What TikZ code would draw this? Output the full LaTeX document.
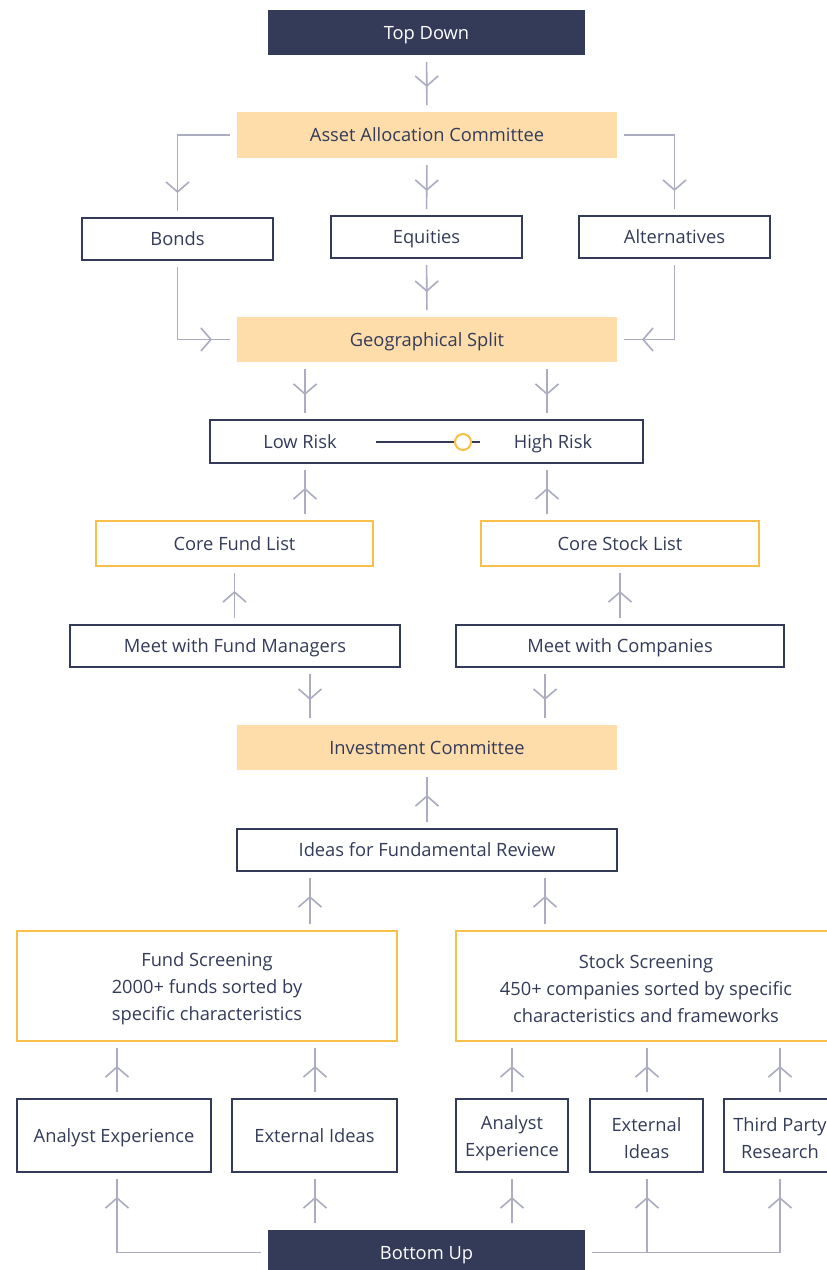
\documentclass[tikz,border=0pt]{standalone}
\usepackage{fontspec}
\setmainfont{Open Sans}
\usetikzlibrary{arrows.meta,decorations.markings,calc}
\definecolor{navy}{HTML}{333B59}
\definecolor{peach}{HTML}{FEDDAA}
\definecolor{gold}{HTML}{F8C048}
\definecolor{arrowgray}{HTML}{ABABC2}
\tikzset{
  every node/.style={font=\fontsize{18.3}{27}\selectfont, text=navy, align=center, inner sep=0pt, outer sep=7pt},
  one/.style={text height=13.2pt, text depth=0pt},
  multi/.style={yshift=-3pt},
  darkbox/.style={fill=navy, text=white, one},
  peachbox/.style={fill=peach, one},
  linebox/.style={draw=navy, line width=1.5pt, fill=white, one},
  multibox/.style={draw=navy, line width=1.5pt, fill=white},
  goldbox/.style={draw=gold, line width=1.5pt, fill=white, one},
  goldmulti/.style={draw=gold, line width=1.5pt, fill=white},
  conn/.style={draw=arrowgray, line width=1.6pt, postaction={decorate},
    decoration={markings, mark=at position -18pt with {\arrow[arrowgray, line width=1.6pt]{Straight Barb[length=10pt,width=23pt]}}}},
}
\newcommand{\bx}[7]{\node[#1, minimum width={#5-#3}, minimum height={#6-#4}] (#2) at ({(#3+#5)/2},{(#4+#6)/2}) {#7};}
\newcommand{\mbx}[7]{%
  \node[#1, minimum width={#5-#3}, minimum height={#6-#4}] (#2) at ({(#3+#5)/2},{(#4+#6)/2}) {};
  \node[outer sep=0pt] (#2-t) at ($(#2.center)+(0,3)$) {#7};}
\begin{document}
\begin{tikzpicture}[x=1pt,y=-1pt]
\clip (0,0) rectangle (827,1270);
\fill[white] (0,0) rectangle (827,1270);
% boxes
\bx{darkbox}{TD}{268}{10}{585}{55}{Top Down}
\bx{peachbox}{AAC}{237}{112}{617}{158}{Asset Allocation Committee}
\bx{linebox}{BO}{82}{218}{273}{260}{Bonds}
\bx{linebox}{EQ}{331}{216}{522}{258}{Equities}
\bx{linebox}{AL}{579}{216}{770}{258}{Alternatives}
\bx{peachbox}{GS}{237}{317}{617}{362}{Geographical Split}
\bx{linebox}{RK}{210}{420}{643}{463}{}
\bx{goldbox}{CFL}{96}{521}{373}{566}{Core Fund List}
\bx{goldbox}{CSL}{481}{521}{759}{566}{Core Stock List}
\bx{linebox}{MFM}{70}{625}{400}{667}{Meet with Fund Managers}
\bx{linebox}{MC}{456}{625}{784}{667}{Meet with Companies}
\bx{peachbox}{IC}{237}{725}{617}{770}{Investment Committee}
\bx{linebox}{IFR}{237}{829}{617}{871}{Ideas for Fundamental Review}
\mbx{goldmulti}{FS}{17}{931}{397}{1041}{Fund Screening\\2000+ funds sorted by\\specific characteristics}
\mbx{goldmulti}{SS}{456}{931}{836}{1041}{Stock Screening\\450+ companies sorted by specific\\characteristics and frameworks}
\bx{linebox}{AE1}{17}{1099}{211}{1172}{Analyst Experience}
\bx{linebox}{EI1}{232}{1099}{397}{1172}{External Ideas}
\mbx{multibox}{AE2}{456}{1099}{568}{1172}{Analyst\\Experience}
\mbx{multibox}{EI2}{590}{1099}{703}{1172}{External\\Ideas}
\mbx{multibox}{TPR}{724}{1099}{836}{1172}{Third Party\\Research}
\bx{darkbox}{BU}{268}{1230}{585}{1275}{Bottom Up}
% risk slider
\node[one, outer sep=0pt] (low) at (300,442) {Low Risk};
\node[one, outer sep=0pt] (high) at (553,442) {High Risk};
\coordinate (sl1) at (376,442);
\coordinate (sl2) at (480,442);
\draw[navy, line width=2.2pt] (sl1) -- (sl2);
\node[circle, draw=gold, line width=2pt, fill=white, minimum size=16pt, outer sep=0pt] (knob) at (463,442) {};
% column coordinates
\coordinate (c305) at (305,0);
\coordinate (c547) at (547,0);
\coordinate (c310) at (310,0);
\coordinate (c545) at (545,0);
% connectors
\draw[conn] (TD) -- (AAC);
\draw[conn] (AAC.west) -| (BO.north);
\draw[conn] (AAC) -- (EQ);
\draw[conn] (AAC.east) -| (AL.north);
\draw[conn] (BO.south) |- (GS.west);
\draw[conn] (EQ) -- (GS);
\draw[conn] (AL.south) |- (GS.east);
\draw[conn] (GS.south -| c305) -- (RK.north -| c305);
\draw[conn] (GS.south -| c547) -- (RK.north -| c547);
\draw[conn] (CFL.north -| c305) -- (RK.south -| c305);
\draw[conn] (CSL.north -| c547) -- (RK.south -| c547);
\draw[conn] (MFM.north -| CFL.south) -- (CFL.south);
\draw[conn] (MC.north -| CSL.south) -- (CSL.south);
\draw[conn] (MFM.south -| c310) -- (IC.north -| c310);
\draw[conn] (MC.south -| c545) -- (IC.north -| c545);
\draw[conn] (IFR) -- (IC);
\draw[conn] (FS.north -| c310) -- (IFR.south -| c310);
\draw[conn] (SS.north -| c545) -- (IFR.south -| c545);
\coordinate (fs1) at (117,0);
\coordinate (fs2) at (315,0);
\coordinate (ss1) at (512,0);
\coordinate (ss2) at (647,0);
\coordinate (ss3) at (780,0);
\draw[conn] (AE1.north -| fs1) -- (FS.south -| fs1);
\draw[conn] (EI1.north -| fs2) -- (FS.south -| fs2);
\draw[conn] (AE2.north -| ss1) -- (SS.south -| ss1);
\draw[conn] (EI2.north -| ss2) -- (SS.south -| ss2);
\draw[conn] (TPR.north -| ss3) -- (SS.south -| ss3);
% bottom up
\draw[conn] (BU.west) -| (AE1.south -| fs1);
\draw[conn] (BU.north -| fs2) -- (EI1.south -| fs2);
\draw[conn] (BU.north -| ss1) -- (AE2.south -| ss1);
\draw[conn] (BU.east -| ss2) -- (EI2.south -| ss2);
\draw[conn] (BU.east) -| (TPR.south -| ss3);
\end{tikzpicture}
\end{document}
